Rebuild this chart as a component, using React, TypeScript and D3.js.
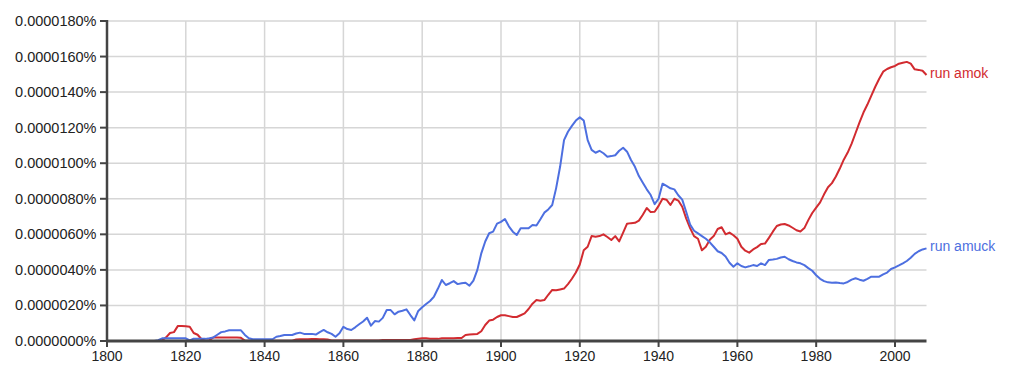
import React from "react";
import * as d3 from "d3";

const startYear = 1800;
const endYear = 2008;

// values in units of 0.0000001 %
const runAmok: number[] = [
  0,0,0,0,0,0,0,0,0,0,
  0,0,0,0,0.5,2,4.5,5,8.5,8.5,
  8.3,8,4.5,3.5,1,0,0.5,2,2,2,
  2,2,2,2,1.8,0.3,0.2,0.2,0.2,0.2,
  0.2,0.2,0.2,0.2,0.2,0.2,0.2,0.2,0.8,1,
  1,1,1.1,1.1,1,1,0.8,0.3,0.3,0.3,
  0.3,0.3,0.3,0.3,0.3,0.3,0.3,0.3,0.3,0.3,
  0.6,0.6,0.6,0.6,0.6,0.6,0.6,0.6,1,1.3,
  1.5,1.5,1.3,1.2,1.2,1.5,1.5,1.5,1.6,1.7,
  1.7,3.4,3.6,3.8,4,5.5,9,11.5,12,13.5,
  14.5,14.5,14,13.5,13.5,14.5,15.5,18,21,23,
  22.7,23,26,28.7,28.5,29,29.5,32,35,38.5,
  43,51,53,59,58.7,59,60,58.5,56.8,59,
  56,61,66,66.3,66.5,67.7,71,74.8,72.5,72.7,
  76,80,79.5,76.5,80,79,75.5,69,63.5,59,
  57.5,51,53,57,59,63,64,60,61,59.5,
  57.5,53,50.8,49.7,51.5,52.8,54.6,54.8,58,61.5,
  64.7,65.5,65.8,65,63.7,62.3,61.6,63.5,68,72,
  75,78,82.5,86.5,88.8,92.5,97,102,106,111,
  117,123,128.5,133,138,143,147.5,151.5,153,154,
  154.7,156,156.5,157,156,152.8,152.5,152,149.6,
];

const runAmuck: number[] = [
  0,0,0,0,0,0,0,0,0,0,
  0,0,0,0.5,1.5,1.5,1.5,1.5,1.5,1.5,
  1.5,0.3,1.3,1.3,1.2,1.2,1.5,2,3.5,5,
  5.4,6,6,6,6,3.4,1.5,1,1,1,
  1,1,1,2.4,2.8,3.4,3.4,3.4,4.2,4.7,
  4,4,4,3.6,5,6.2,4.9,4,2.4,4.3,
  8,6.7,6.2,7.7,9.4,11,13.1,8.6,11.2,10.9,
  13,17.4,17.4,15,16.5,17,17.8,14.6,11.6,16.9,
  19,20.8,22.5,25,29.5,34.3,31.5,32.5,33.7,32,
  32.5,32.8,31.1,34,40,49.3,56,60.6,61.5,66,
  67,68.6,64.5,61.5,59.6,63.4,63.4,63.4,65.2,65,
  68.5,72.2,74,76.5,86,98,113,117.7,121,124,
  125.8,124,113,107.5,105.9,107,105.6,103.7,104,104.5,
  107,108.7,106.5,101.8,98,92.8,89,85.3,82.1,77,
  80,88.5,87.2,85.9,85.3,82,79.5,72.7,65.5,62,
  60.5,59,57.5,55.5,53,50.5,49.5,47.5,44,41.8,
  43.7,42.2,41.4,42,42.7,42.2,43.7,42.7,45.6,45.8,
  46.2,47,47.4,46,45,44.2,43.7,42.7,41,39.5,
  37,35,33.7,33,32.8,32.9,32.6,32.4,33.2,34.5,
  35.3,34.5,33.9,35,36.2,36.2,36.2,37.5,38.5,40.5,
  41.4,42.5,43.7,45,46.8,49,50.5,51.5,52.1,
];

const yTicks = [0, 20, 40, 60, 80, 100, 120, 140, 160, 180];
const yTickLabels = [
  "0.0000000%", "0.0000020%", "0.0000040%", "0.0000060%", "0.0000080%",
  "0.0000100%", "0.0000120%", "0.0000140%", "0.0000160%", "0.0000180%",
];
const xTicks = [1800, 1820, 1840, 1860, 1880, 1900, 1920, 1940, 1960, 1980, 2000];

const seriesNames = ["run amok", "run amuck"];
const seriesColors = ["#d22b30", "#4d6fe0"];

export default function App() {
  const W = 1010, H = 374;
  const left = 107, right = 926.5, top = 21, bottom = 341;
  const x = d3.scaleLinear().domain([startYear, endYear]).range([left, right]);
  const y = d3.scaleLinear().domain([0, 180]).range([bottom, top]);
  const line = d3
    .line<number>()
    .x((_, i) => x(startYear + i))
    .y((d) => y(d));
  const series = [runAmok, runAmuck];
  const font = "Arial, 'Liberation Sans', Helvetica, sans-serif";

  return (
    <svg
      width={W}
      height={H}
      style={{ position: "absolute", left: 0, top: 0, background: "#fff" }}
      fontFamily={font}
    >
      {/* grid */}
      {yTicks.slice(1).map((t) => (
        <line key={"gy" + t} x1={left} x2={right} y1={y(t)} y2={y(t)} stroke="#d6d6d6" strokeWidth={1.5} />
      ))}
      {xTicks.slice(1).map((t) => (
        <line key={"gx" + t} x1={x(t)} x2={x(t)} y1={top} y2={bottom} stroke="#d6d6d6" strokeWidth={1.5} />
      ))}
      {/* series */}
      {series.map((s, i) => (
        <path key={"s" + i} d={line(s) || ""} fill="none" stroke={seriesColors[i]} strokeWidth={2} strokeLinejoin="round" />
      ))}
      {/* labels */}
      {series.map((s, i) => (
        <text
          key={"l" + i}
          x={x(endYear) + 3.5}
          y={y(s[s.length - 1]) + 2.5}
          fill={seriesColors[i]}
          fontSize={14}
        >
          {seriesNames[i]}
        </text>
      ))}
      {/* y axis */}
      <line x1={left} x2={left} y1={top - 1} y2={bottom + 1} stroke="#444" strokeWidth={2.5} />
      {yTicks.map((t, i) => (
        <g key={"yt" + t}>
          <line x1={left - 7} x2={left} y1={y(t)} y2={y(t)} stroke="#444" strokeWidth={2} />
          <text x={left - 10.5} y={y(t) + 5} textAnchor="end" fontSize={14.5} fill="#222">
            {yTickLabels[i]}
          </text>
        </g>
      ))}
      {/* x axis */}
      <line x1={left - 1} x2={right} y1={bottom} y2={bottom} stroke="#444" strokeWidth={3} />
      {xTicks.map((t) => (
        <g key={"xt" + t}>
          <line x1={x(t)} x2={x(t)} y1={bottom} y2={bottom + 6} stroke="#444" strokeWidth={2} />
          <text x={x(t)} y={bottom + 20} textAnchor="middle" fontSize={14} fill="#222">
            {t}
          </text>
        </g>
      ))}
    </svg>
  );
}
